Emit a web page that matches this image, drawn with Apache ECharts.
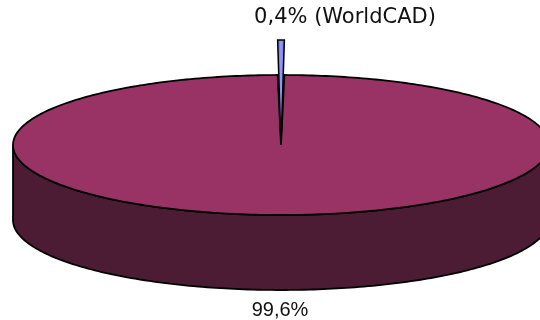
<!DOCTYPE html>
<html>
<head>
<meta charset="utf-8">
<script src="https://cdn.jsdelivr.net/npm/echarts@6/dist/echarts.min.js"></script>
<style>
  html, body { margin: 0; padding: 0; background: #fff; }
  #chart { width: 540px; height: 320px; }
</style>
</head>
<body>
<div id="chart"></div>
<script>
// data
const categories = ['WorldCAD', 'Autres']
const shares = [0.4, 99.6]
const labels = ['0,4% (WorldCAD)', '99,6%']

// pie layout (3d look)
const cx = 281, cy = 145, rx = 268, ry = 70, depth = 75
const explodeRy = 105
const total = shares.reduce((a, b) => a + b, 0)

// start so that the first slice points straight back (up on screen)
const startDeg = 90 - shares[0] / total * 180

const pt = (deg, rX, rY, dy) => {
    const a = deg * Math.PI / 180
    return [cx + rX * Math.cos(a), cy - rY * Math.sin(a) + (dy || 0)]
}

const arc = (from, to, rX, rY, dy) => {
    const pts = []
    const n = Math.max(2, Math.ceil(Math.abs(to - from) / 1))
    for (let i = 0; i <= n; i++) {
        pts.push(pt(from + (to - from) * i / n, rX, rY, dy))
    }
    return pts
}

const myChart = echarts.init(document.getElementById('chart'))

myChart.setOption({
    animation: false,
    series: [{
        type: 'custom',
        coordinateSystem: 'none',
        data: shares.map((v, i) => ({ name: categories[i], value: v })),
        renderItem: function (params, api) {
            const idx = params.dataIndex
            let before = 0
            for (let i = 0; i < idx; i++) before += shares[i]
            const a0 = startDeg + before / total * 360
            const a1 = startDeg + (before + api.value(0)) / total * 360
            const children = []
            if (idx === 0) {
                // exploded thin slice
                const poly = [[cx, cy]].concat(arc(a0, a1, rx, explodeRy))
                children.push({
                    type: 'polygon',
                    z2: 3,
                    shape: { points: poly },
                    style: {
                        fill: new echarts.graphic.LinearGradient(0, 0, 1, 0, [
                            { offset: 0, color: '#5a5ad8' },
                            { offset: 0.5, color: '#9a9cff' },
                            { offset: 1, color: '#5a5ad8' }
                        ]),
                        stroke: '#000',
                        lineWidth: 1.5
                    }
                })
                const top = pt((a0 + a1) / 2, rx, explodeRy)
                children.push({
                    type: 'text',
                    z2: 4,
                    style: {
                        text: labels[idx],
                        x: top[0] + 64, y: 18,
                        align: 'center', verticalAlign: 'middle',
                        font: '21px "DejaVu Sans"',
                        fill: '#111'
                    }
                })
            } else {
                // front side wall (visible part: lower half of the ellipse)
                const s0 = Math.max(a0, 180), s1 = Math.min(a1, 360)
                if (s1 > s0) {
                    const side = arc(s0, s1, rx, ry).concat(arc(s1, s0, rx, ry, depth))
                    children.push({
                        type: 'polygon',
                        z2: 1,
                        shape: { points: side },
                        style: { fill: '#4c1b34', stroke: '#000', lineWidth: 1.8 }
                    })
                }
                const topFace = [[cx, cy]].concat(arc(a0, a1, rx, ry))
                children.push({
                    type: 'polygon',
                    z2: 2,
                    shape: { points: topFace },
                    style: { fill: '#993366', stroke: '#000', lineWidth: 1.8 }
                })
                children.push({
                    type: 'text',
                    z2: 4,
                    style: {
                        text: labels[idx],
                        x: cx - 1, y: cy + ry + depth + 20,
                        align: 'center', verticalAlign: 'middle',
                        font: '20px "Liberation Sans"',
                        fill: '#111'
                    }
                })
            }
            return { type: 'group', children: children }
        }
    }]
})
</script>
</body>
</html>
